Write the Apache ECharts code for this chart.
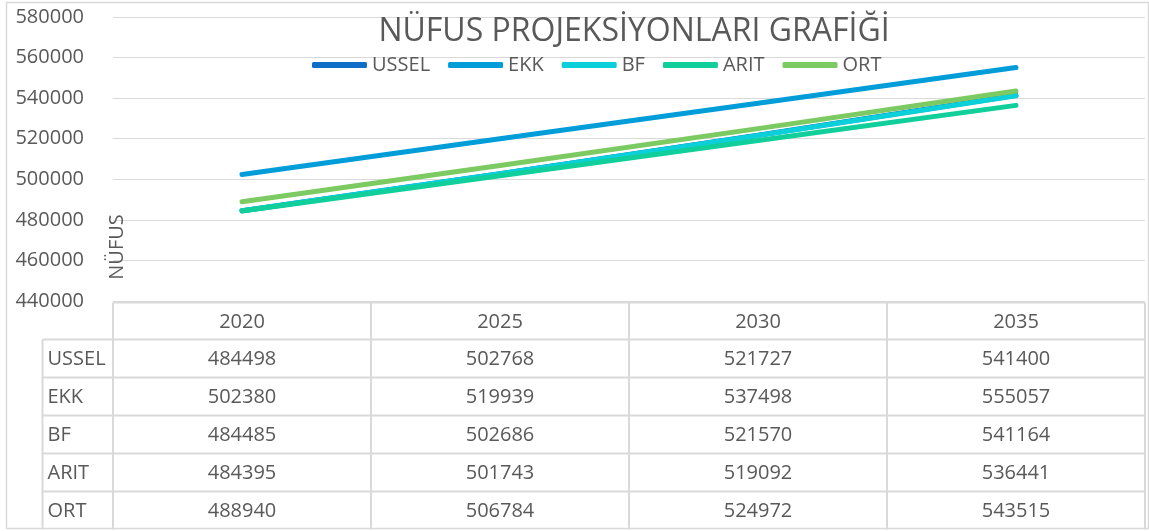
<!DOCTYPE html>
<html>
<head>
<meta charset="utf-8">
<script src="https://cdn.jsdelivr.net/npm/echarts@6/dist/echarts.min.js"></script>
<style>
  html, body { margin: 0; padding: 0; background: #ffffff; }
  #chart { width: 1149px; height: 531px; }
</style>
</head>
<body>
<div id="chart"></div>
<script>
// Population projections by method, 2020–2035
const years = ['2020', '2025', '2030', '2035'];
const USSEL = [484498, 502768, 521727, 541400];
const EKK   = [502380, 519939, 537498, 555057];
const BF    = [484485, 502686, 521570, 541164];
const ARIT  = [484395, 501743, 519092, 536441];
const ORT   = [488940, 506784, 524972, 543515];
const seriesNames = ['USSEL', 'EKK', 'BF', 'ARIT', 'ORT'];
const seriesValues = [USSEL, EKK, BF, ARIT, ORT];
const colors = ['#0F6FC6', '#009DD9', '#0BD0D9', '#10CF9B', '#7CCA62'];
const yMin = 440000, yMax = 580000, yStep = 20000;

const FONT = '"Open Sans", "Noto Sans", sans-serif';
const TEXT = '#595959';
const RULE = '#D9D9D9';

const chart = echarts.init(document.getElementById('chart'), null, { renderer: 'canvas' });

chart.setOption({
  animation: false,
  color: colors,
  title: {
    text: 'NÜFUS PROJEKSİYONLARI GRAFİĞİ',
    left: 629,
    top: 11,
    textAlign: 'center',
    textStyle: { fontFamily: FONT, fontSize: 32, fontWeight: 'normal', color: TEXT }
  },
  legend: {
    left: 307,
    top: 50,
    itemWidth: 55,
    itemHeight: 6,
    itemGap: 18,
    icon: 'roundRect',
    textStyle: { fontFamily: FONT, fontSize: 20, color: TEXT },
    data: seriesNames
  },
  grid: { left: 113, right: 4, top: 17, bottom: 230, containLabel: false },
  xAxis: {
    type: 'category',
    data: years,
    boundaryGap: true,
    axisLine: { show: false },
    axisTick: { show: false },
    axisLabel: { show: false },
    splitLine: { show: false }
  },
  yAxis: {
    type: 'value',
    min: yMin,
    max: yMax,
    interval: yStep,
    axisLine: { show: false },
    axisTick: { show: false },
    axisLabel: {
      margin: 29, fontFamily: FONT, fontSize: 20, color: TEXT,
      formatter: (v) => String(v)
    },
    splitLine: { lineStyle: { color: RULE, width: 1 } }
  },
  series: seriesNames.map((name, i) => ({
    name: name,
    type: 'line',
    data: seriesValues[i],
    symbol: 'none',
    smooth: false,
    lineStyle: { width: 5, cap: 'round', join: 'round', color: colors[i] },
    itemStyle: { color: colors[i] }
  }))
});

// Data table under the plot, aligned with the category columns
function buildTable() {
  const c0 = chart.convertToPixel({ xAxisIndex: 0 }, 0);
  const c1 = chart.convertToPixel({ xAxisIndex: 0 }, 1);
  const colW = c1 - c0;
  const left = c0 - colW / 2;
  const right = left + colW * years.length;
  const top = Math.round(chart.convertToPixel({ yAxisIndex: 0 }, yMin)) + 1.5;
  const headerH = 37;
  const rowH = 38;
  const labelLeft = 42.5;
  const els = [];
  const line = (x1, y1, x2, y2) => els.push({
    type: 'line', silent: true,
    shape: { x1, y1, x2, y2 },
    style: { stroke: RULE, lineWidth: 2 }
  });
  const text = (x, y, t, align) => els.push({
    type: 'text', silent: true,
    x, y,
    style: { text: t, fill: TEXT, font: '20px ' + FONT, align: align, verticalAlign: 'middle' }
  });

  const tableBottom = top + headerH + rowH * seriesNames.length;
  // header row
  line(left, top, right, top);
  years.forEach((y, j) => text(left + colW * (j + 0.5), top + headerH / 2 + 1, y, 'center'));
  // data rows
  seriesNames.forEach((name, i) => {
    const yTop = top + headerH + rowH * i;
    line(labelLeft, yTop, right, yTop);
    text(labelLeft + 5, yTop + rowH / 2 + 1, name, 'left');
    seriesValues[i].forEach((v, j) => text(left + colW * (j + 0.5), yTop + rowH / 2 + 1, String(v), 'center'));
  });
  // vertical rules
  line(labelLeft, top + headerH, labelLeft, tableBottom);
  for (let j = 0; j <= years.length; j++) {
    const x = left + colW * j;
    line(x, top, x, tableBottom);
  }
  // outer frame of the chart
  els.push({
    type: 'rect', silent: true,
    shape: { x: 6.5, y: 2.5, width: 1142, height: 526 },
    style: { fill: 'none', stroke: RULE, lineWidth: 1.5 }
  });
  // vertical axis title
  els.push({
    type: 'text', silent: true,
    x: 117, y: 247, rotation: Math.PI / 2,
    style: { text: 'NÜFUS', fill: TEXT, font: '20px ' + FONT, align: 'center', verticalAlign: 'middle' }
  });
  chart.setOption({ graphic: { elements: els } });
}
buildTable();
</script>
</body>
</html>
